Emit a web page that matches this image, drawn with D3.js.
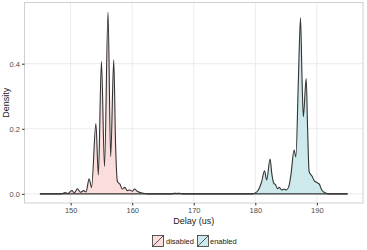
<!DOCTYPE html>
<html><head><meta charset="utf-8">
<script src="https://cdn.jsdelivr.net/npm/d3@7"></script>
<style>body{margin:0;background:#fff}svg{display:block;font-family:"Liberation Sans",Arial,sans-serif}</style>
</head><body><svg id="c" width="367" height="250"></svg>
<script>
const groups = ["disabled", "enabled"];
const groupColors = ["#fbdedc", "#cde9ec"];
const xTicks = [150, 160, 170, 180, 190];
const yTicks = [0.0, 0.2, 0.4];
const disabledX = [145,148.5,149.1,149.5,150.2,150.6,151.1,151.6,152.1,152.5,153.0,153.4,154.1,154.5,155.0,155.5,156.07,156.5,157.0,157.3,157.6,158.0,158.4,158.8,159.2,159.6,160.0,160.4,160.8,161.3,162,162.5,166.5,166.8,167.2,167.6,168.2,195];
const disabledY = [0,0,0.004,0.001,0.010,0.003,0.016,0.005,0.010,0.006,0.046,0.020,0.216,0.058,0.407,0.084,0.558,0.114,0.412,0.15,0.038,0.030,0.015,0.020,0.010,0.012,0.008,0.015,0.008,0.004,0.001,0,0,0.002,0.001,0.002,0,0];
const enabledX = [145,179.5,180.0,180.5,181.0,181.5,181.85,182.4,182.7,183.0,183.3,183.6,183.9,184.3,184.7,185.0,185.4,185.8,186.3,186.6,187.0,187.35,187.6,187.8,188.27,188.5,188.75,189.2,189.6,190.0,190.4,190.8,191.5,192,195];
const enabledY = [0,0,0.003,0.012,0.035,0.071,0.043,0.107,0.06,0.033,0.028,0.016,0.020,0.012,0.015,0.012,0.020,0.060,0.135,0.114,0.35,0.541,0.35,0.237,0.354,0.2,0.068,0.055,0.040,0.035,0.030,0.012,0.002,0,0];

const svg = d3.select("#c");
const L = 24.5, R = 363, T = 2.5, B = 203;
const x = d3.scaleLinear().domain([142.5, 197.5]).range([L, R]);
const y = d3.scaleLinear().domain([-0.028, 0.588]).range([B, T]);

// grid
const g = svg.append("g");
g.selectAll(".vg").data(xTicks).join("line").attr("x1", d => x(d)).attr("x2", d => x(d)).attr("y1", T).attr("y2", B).attr("stroke", "#ebebeb").attr("stroke-width", 1);
g.selectAll(".hg").data(yTicks).join("line").attr("y1", d => y(d)).attr("y2", d => y(d)).attr("x1", L).attr("x2", R).attr("stroke", "#ebebeb").attr("stroke-width", 1);

const series = [
  {name: groups[0], color: groupColors[0], pts: disabledX.map((v, i) => [v, disabledY[i]])},
  {name: groups[1], color: groupColors[1], pts: enabledX.map((v, i) => [v, enabledY[i]])}
];
const area = d3.area().x(d => x(d[0])).y0(y(0)).y1(d => y(d[1])).curve(d3.curveMonotoneX);
const line = d3.line().x(d => x(d[0])).y(d => y(d[1])).curve(d3.curveMonotoneX);
series.forEach(s => {
  svg.append("path").attr("d", area(s.pts)).attr("fill", s.color);
});
series.forEach(s => {
  svg.append("path").attr("d", line(s.pts)).attr("fill", "none").attr("stroke", "#333").attr("stroke-width", 1.1);
});

// panel border
svg.append("rect").attr("x", L).attr("y", T).attr("width", R - L).attr("height", B - T).attr("fill", "none").attr("stroke", "#d0d0d0").attr("stroke-width", 1);

// axes
const xa = svg.append("g").attr("transform", `translate(0,${B})`).call(d3.axisBottom(x).tickValues(xTicks).tickSize(2.5).tickPadding(2).tickFormat(d3.format("d")));
const ya = svg.append("g").attr("transform", `translate(${L},0)`).call(d3.axisLeft(y).tickValues(yTicks).tickSize(2.5).tickPadding(2).tickFormat(d3.format(".1f")));
[xa, ya].forEach(a => {
  a.select(".domain").remove();
  a.selectAll("line").attr("stroke", "#333");
  a.selectAll("text").attr("fill", "#4d4d4d").attr("font-size", 7.5).attr("font-family", "Liberation Sans, Arial, sans-serif");
});

svg.append("text").attr("x", (L + R) / 2).attr("y", 224).attr("text-anchor", "middle").attr("font-size", 9).attr("fill", "#222").text("Delay (us)");
svg.append("text").attr("transform", `translate(9,${(T + B) / 2}) rotate(-90)`).attr("text-anchor", "middle").attr("font-size", 9).attr("fill", "#222").text("Density");

// legend
const leg = svg.append("g");
const keyX = [152, 197], txtX = [166, 210], ky = 235, ks = 12;
series.forEach((s, i) => {
  leg.append("rect").attr("x", keyX[i]).attr("y", ky).attr("width", ks).attr("height", ks).attr("fill", "#f2f2f2");
  leg.append("rect").attr("x", keyX[i] + 0.5).attr("y", ky + 0.5).attr("width", ks - 1).attr("height", ks - 1).attr("fill", s.color).attr("stroke", "#333").attr("stroke-width", 0.8);
  leg.append("line").attr("x1", keyX[i] + 0.5).attr("y1", ky + ks - 0.5).attr("x2", keyX[i] + ks - 0.5).attr("y2", ky + 0.5).attr("stroke", "#333").attr("stroke-width", 0.8);
  leg.append("text").attr("x", txtX[i]).attr("y", ky + ks / 2 + 2.8).attr("font-size", 7.5).attr("fill", "#222").text(s.name);
});
</script></body></html>
